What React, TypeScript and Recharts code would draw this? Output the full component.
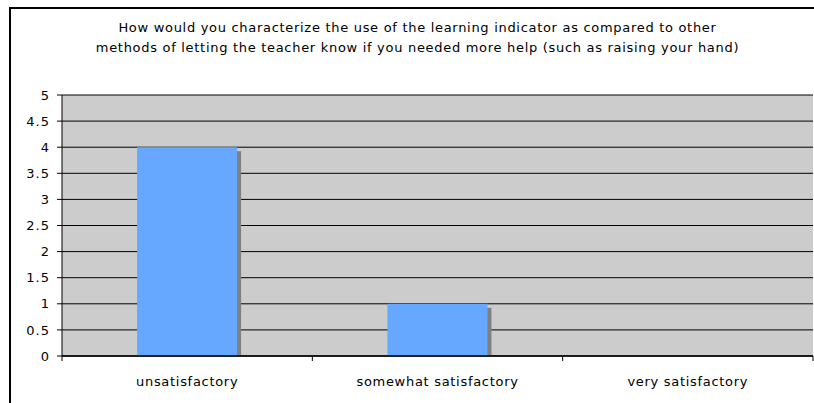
import { BarChart, Bar, XAxis, YAxis, CartesianGrid } from "recharts";

const categories = ["unsatisfactory", "somewhat satisfactory", "very satisfactory"];
const responses = [4, 1, 0];
const yTicks = [0, 0.5, 1, 1.5, 2, 2.5, 3, 3.5, 4, 4.5, 5];
const titleLines = [
  "How would you characterize the use of the learning indicator as compared to other",
  "methods of letting the teacher know if you needed more help (such as raising your hand)",
];

const data = categories.map((name, i) => ({ name, value: responses[i] }));

const FONT = "'DejaVu Sans', sans-serif";
const textStyle = { fontSize: 13, fontFamily: FONT, letterSpacing: "0.7px" };

// excel-style bar with a gray drop shadow on the right
function ShadowBar(props: any) {
  const { x, y, width, height, fill } = props;
  if (!height || height <= 0) return null;
  const d = 4;
  return (
    <g>
      <rect x={x + d} y={y + d} width={width} height={Math.max(height - d, 0)} fill="#808080" />
      <rect x={x} y={y} width={width} height={height} fill={fill} />
    </g>
  );
}

// ticks sit between categories, label in the middle
function CategoryTick(props: any) {
  const { x, y, payload, index, visibleTicksCount } = props;
  const half = payload?.offset || 125;
  return (
    <g>
      <line x1={x - half} x2={x - half} y1={y} y2={y + 5} stroke="#000" />
      {index === visibleTicksCount - 1 && (
        <line x1={x + half} x2={x + half} y1={y} y2={y + 5} stroke="#000" />
      )}
      <text x={x} y={y + 30} textAnchor="middle" fill="#000" style={textStyle}>
        {payload.value}
      </text>
    </g>
  );
}

function ValueTick(props: any) {
  const { x, y, payload } = props;
  return (
    <text x={x + 1} y={y} dy="0.36em" textAnchor="end" fill="#000" style={{ ...textStyle, letterSpacing: "1px" }}>
      {payload.value}
    </text>
  );
}

export default function App() {
  return (
    <div
      style={{
        position: "fixed",
        left: 9,
        top: 7,
        width: 803,
        height: 394,
        borderLeft: "2px solid #000",
        borderTop: "2px solid #000",
        background: "#fff",
      }}
    >
      <svg width={803} height={60} style={{ position: "absolute", left: 0, top: 0 }}>
        {titleLines.map((line, i) => (
          <text key={i} x={406.5} y={23 + i * 20} textAnchor="middle" fill="#000" style={textStyle}>
            {line}
          </text>
        ))}
      </svg>
      <BarChart
        width={803}
        height={394}
        data={data}
        margin={{ top: 86, right: 1, bottom: 17, left: 0 }}
        barCategoryGap="30%"
      >
        <CartesianGrid vertical={false} stroke="#000" fill="#CCCCCC" />
        <XAxis
          dataKey="name"
          height={30}
          tickSize={0}
          tickMargin={0}
          tickLine={false}
          interval={0}
          tick={<CategoryTick />}
          axisLine={{ stroke: "#000", strokeWidth: 1.5 }}
        />
        <XAxis
          xAxisId="top"
          orientation="top"
          dataKey="name"
          height={0}
          tick={false}
          tickLine={false}
          axisLine={{ stroke: "#808080" }}
        />
        <YAxis
          domain={[0, 5]}
          ticks={yTicks}
          interval={0}
          width={51}
          tickSize={5}
          tickMargin={8}
          axisLine={{ stroke: "#000" }}
          tickLine={{ stroke: "#000" }}
          tick={<ValueTick />}
        />
        <YAxis
          yAxisId="right"
          orientation="right"
          width={0}
          domain={[0, 5]}
          tick={false}
          tickLine={false}
          axisLine={{ stroke: "#808080" }}
        />
        <Bar dataKey="value" fill="#66A8FF" shape={<ShadowBar />} isAnimationActive={false} />
      </BarChart>
    </div>
  );
}
